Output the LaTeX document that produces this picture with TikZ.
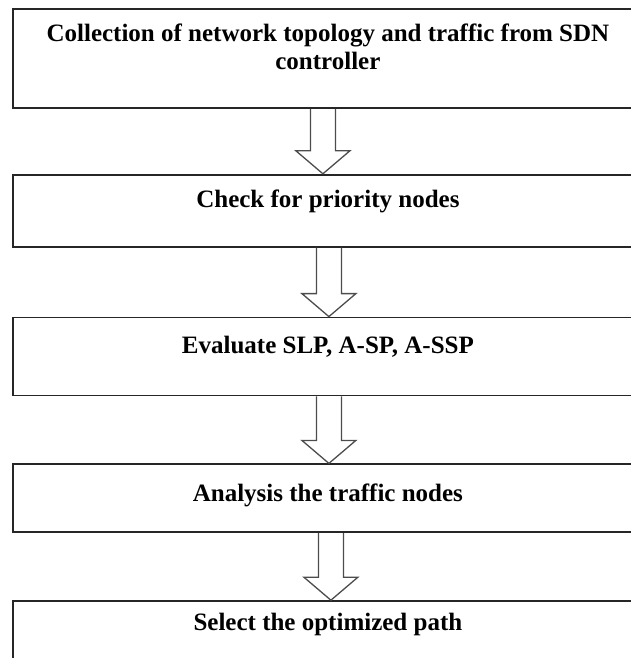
\documentclass[tikz,border=0pt]{standalone}
\usepackage{fontspec}
\setmainfont{Liberation Serif}
\usetikzlibrary{
positioning,
calc
}

\begin{document}
\begin{tikzpicture}[x=1pt,y=-1pt,
    stepbox/.style={draw=black!85, line width=1.8pt, minimum width=630pt, inner sep=0pt},
    steptext/.style={font=\fontsize{25}{28}\selectfont\bfseries, align=center, inner sep=0pt, anchor=base},
    blockarrow/.style={draw=black!70, line width=1.3pt, line join=miter}]
    \useasboundingbox (0,0) rectangle (631,658);
    \clip (0,0) rectangle (631,658);
    \node [stepbox, minimum height=99pt, anchor=north west] (b1) at (12,8) {};
    \node [stepbox, minimum height=72pt, below = 65pt of b1] (b2) {};
    \node [stepbox, minimum height=78pt, below = 69pt of b2] (b3) {};
    \node [stepbox, minimum height=68pt, below = 67pt of b3] (b4) {};
    \node [stepbox, minimum height=90pt, below = 67pt of b4] (b5) {};
    % last line of the first box sits on the base anchor
    \node [steptext] (t1) at ([yshift=-62pt] b1.north) {Collection of network topology and traffic from SDN\\controller};
    \node [steptext] (t2) at ([yshift=-34pt] b2.north) {Check for priority nodes};
    \node [steptext] (t3) at ([yshift=-37pt] b3.north) {Evaluate SLP, A-SP, A-SSP};
    \node [steptext] (t4) at ([yshift=-38pt] b4.north) {Analysis the traffic nodes};
    \node [steptext] (t5) at ([yshift=-30pt] b5.north) {Select the optimized path};
    \foreach \a/\b/\dx in {b1/b2/-5, b2/b3/1, b3/b4/1, b4/b5/3}
      \draw [blockarrow] let \p1 = (\a.south), \p2 = (\b.north) in
        (\x1+\dx pt-12.5pt,\y1) -- (\x1+\dx pt-12.5pt,\y2+23pt) -- (\x1+\dx pt-27pt,\y2+23pt)
        -- (\x1+\dx pt,\y2) -- (\x1+\dx pt+27pt,\y2+23pt) -- (\x1+\dx pt+12.5pt,\y2+23pt)
        -- (\x1+\dx pt+12.5pt,\y1);
\end{tikzpicture}
\end{document}
